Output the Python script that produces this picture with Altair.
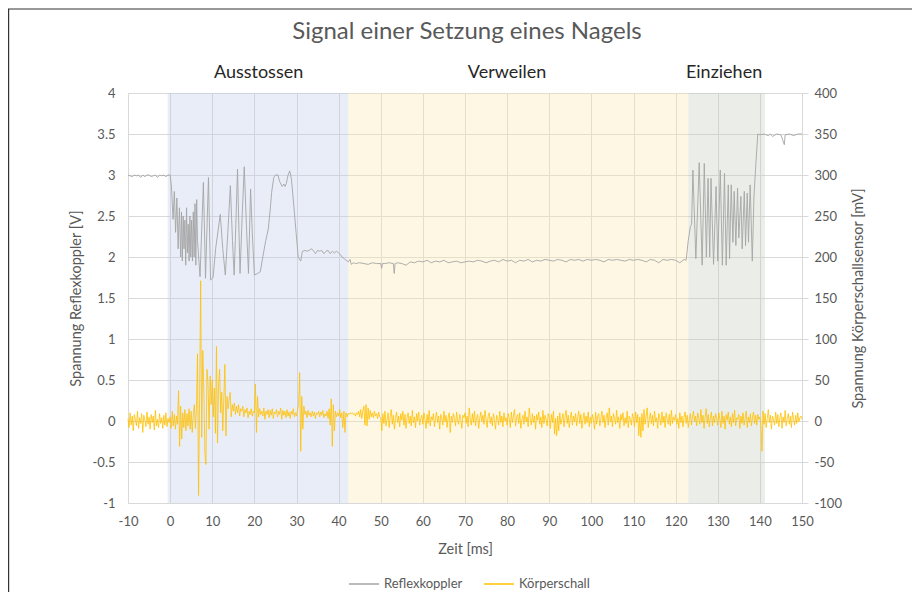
import altair as alt
import pandas as pd

FONT = "Lato"

chart_title = "Signal einer Setzung eines Nagels"
x_ticks = [-10, 0, 10, 20, 30, 40, 50, 60, 70, 80, 90, 100, 110, 120, 130, 140, 150]
left_ticks = [-1, -0.5, 0, 0.5, 1, 1.5, 2, 2.5, 3, 3.5, 4]
right_ticks = [-100, -50, 0, 50, 100, 150, 200, 250, 300, 350, 400]

series_names = ["Reflexkoppler", "Körperschall"]
series_colors = ["#a5a5a5", "#ffc000"]

phase_names = ["Ausstossen", "Verweilen", "Einziehen"]
phase_start = [-0.6, 42.3, 123.0]
phase_end = [42.3, 123.0, 141.2]
phase_label_x = [21, 80, 131.5]
phase_colors = ["#c0cce8", "#fce8b2", "#c6cebd"]

# Reflexkoppler [V]
refl_t = [
    -10, -9.5, -9, -8.5, -8, -7.5, -7, -6.5, -6, -5.5, -5, -4.5, -4, -3.5, -3, -2.5, -2, -1.5, -1, -0.5, 0,
    0.3, 0.7, 1.0, 1.3, 1.6, 1.9, 2.2, 2.5, 2.7, 2.9, 3.1, 3.3, 3.5, 3.7, 3.9, 4.1, 4.3, 4.5, 4.7, 4.9,
    5.1, 5.3, 5.5, 5.7, 5.9, 6.1, 6.3, 6.5,
    7.1, 7.9, 8.4, 9.1, 9.6, 10.2, 10.8, 11.9, 12.5, 13.1, 13.7, 14.3, 14.8, 15.2, 15.6, 16.0, 16.3, 16.6,
    17.1, 17.6, 18.1, 18.6, 19.1, 19.5, 20.0, 20.8, 21.4, 22.0, 22.7, 23.3, 23.8, 24.1, 24.6, 25.0, 25.6,
    26.0, 26.3, 26.6, 27.0, 27.3, 27.6, 28.0, 28.4, 28.8, 29.4, 29.9, 30.4, 31.0, 31.4,
    32, 32.5, 33, 33.5, 34, 34.5, 35, 35.5, 36, 36.5, 37, 37.5, 38, 38.5, 39, 39.5, 40, 40.4, 40.8, 41.3,
    41.8, 42.3, 42.7, 43.0,
    43.5, 44, 45, 46, 47, 48, 49, 50, 50.2, 50.4, 51, 52, 53, 53.2, 53.4, 54, 55, 56, 57, 58, 59, 60,
    61, 62, 63, 64, 65, 66, 67, 68, 69, 70, 71, 72, 73, 74, 75, 76, 77, 78, 79, 80, 81, 82, 83, 84, 85,
    86, 87, 88, 89, 90, 91, 92, 93, 94, 95, 96, 97, 98, 99, 100, 101, 102, 103, 104, 105, 106, 107, 108,
    109, 110, 111, 112, 113, 114, 115, 116, 117, 118, 119, 120, 121, 122, 122.5,
    123.0, 123.5, 123.8, 124.1, 124.8, 125.6, 126.3, 126.8, 127.3, 127.7, 128.1, 128.4, 129.0, 129.6,
    130.0, 130.6, 131.1, 131.6, 132.0, 132.5, 132.8, 133.2, 133.6, 133.9, 134.3, 134.7, 135.0, 135.5,
    135.8, 136.3, 136.6, 137.0, 137.3, 137.7, 138.2, 138.6, 139.0, 139.5,
    140, 141, 142, 142.5, 143, 144, 145, 145.8, 146, 147, 148, 149, 150,
]
refl_v = [
    3.0, 2.99, 2.98, 3.0, 2.99, 3.0, 2.97, 3.0, 2.98, 3.0, 3.0, 2.98, 2.99, 3.0, 2.97, 3.0, 2.99, 3.0, 2.98, 3.0, 3.0,
    2.87, 2.46, 2.8, 2.3, 2.72, 2.1, 2.6, 2.0, 2.55, 1.95, 2.5, 2.1, 2.45, 1.9, 2.6, 2.05, 2.4, 1.95, 2.5, 2.0,
    2.45, 1.95, 2.55, 2.0, 2.65, 1.9, 2.7, 2.2,
    1.76, 2.91, 1.74, 2.97, 1.72, 1.75, 2.1, 2.52, 2.1, 1.78, 2.3, 2.87, 2.2, 1.78, 2.4, 3.07, 2.4, 1.8,
    2.5, 3.1, 2.4, 1.8, 2.83, 2.3, 1.78, 1.8, 1.82, 2.0, 2.2, 2.34, 2.6, 2.79, 2.97, 3.0, 3.0,
    2.92, 2.89, 2.86, 2.89, 2.86, 2.9, 3.0, 3.05, 2.95, 2.6, 2.3, 2.0, 1.95, 2.07,
    2.08, 2.07, 2.08, 2.1, 2.08, 2.04, 2.08, 2.07, 2.08, 2.04, 2.07, 2.08, 2.04, 2.07, 2.05, 2.07, 2.05, 2.03, 2.0, 1.98,
    1.96, 1.94, 1.97, 1.91,
    1.93, 1.92, 1.93, 1.92, 1.91, 1.93, 1.92, 1.92, 1.86, 1.92, 1.92, 1.93, 1.92, 1.8, 1.92, 1.93, 1.92, 1.9, 1.94, 1.93, 1.95, 1.94,
    1.96, 1.93, 1.95, 1.94, 1.96, 1.93, 1.94, 1.95, 1.93, 1.94, 1.95, 1.94, 1.96, 1.95, 1.93, 1.95, 1.96, 1.94, 1.97, 1.95, 1.96, 1.93, 1.96, 1.95, 1.97,
    1.94, 1.96, 1.95, 1.97, 1.96, 1.95, 1.97, 1.96, 1.94, 1.97, 1.96, 1.97, 1.95, 1.97, 1.96, 1.97, 1.96, 1.94, 1.97, 1.96, 1.97, 1.96, 1.95,
    1.97, 1.96, 1.97, 1.96, 1.94, 1.97, 1.96, 1.93, 1.97, 1.96, 1.97, 1.96, 1.93, 1.97, 1.96,
    2.2, 2.37, 2.4, 3.06, 1.98, 3.15, 1.9, 3.14, 2.0, 2.96, 2.0, 2.96, 1.91, 2.86,
    1.95, 3.06, 1.9, 3.02, 1.9, 2.88, 1.98, 2.88, 2.18, 2.8, 2.14, 2.84, 2.23, 2.74,
    2.1, 2.8, 2.14, 2.78, 2.18, 2.88, 1.95, 2.74, 3.1, 3.5,
    3.49, 3.5, 3.48, 3.5, 3.47, 3.5, 3.49, 3.37, 3.49, 3.5, 3.48, 3.5, 3.5,
]

# Koerperschall [mV], sampled every 0.25 ms from -10 ms
ks_start = -10.0
ks_step = 0.25
ks_v = [
    3, -8, 10, -5, 6, -12, 8, 2, -6, 12, -9, 4, -3, 9, -14, 7, 1, -7, 11, -4, 5, -10, 8, -2, 6, -11, 13, -6, 2, -8, 9, -3, 4, -9, 7, -5, 10, -7, 3, -2,
    5, -9, 12, -6, 8, -10, 6, -4, 37, -31, 18, -22, 10, -8, 14, -12, 9, -6, 15, -10, 12, -14, 8, 20, -9, 15, 82, -91, 30, 171, -20, 86, 40, -39, -53, 63, 45, -10, 55, 20,
    50, 5, 40, -15, 91, -27, 45, 63, 10, 35, -12, 28, 69, -18, 30, 15, 25, 35, 5, 20, 12, 22, 8, 18, 10, 20, 6, 15, 12, 18, 5, 14, 10, 16, 4, 12, 8, 15, 6, 12,
    10, 45, -14, 30, 5, 15, 8, 12, 6, 16, 2, 12, 8, 14, 4, 13, 7, 15, 3, 11, 9, 14, 5, 12, 8, 16, 2, 13, 7, 12, 4, 14, 6, 11, 3, 12, 8, 15, 5, 10,
    6, 14, 20, 59, -37, 30, -10, 18, 8, 12, 4, 13, 7, 10, 5, 12, 6, 11, 3, 10, 8, 12, 5, 11, 7, 13, 4, 9, 6, 12, 3, 15, -5, 27, -31, 20, -12, 12, 5, 10,
    6, 14, 4, 10, -8, 12, -14, 10, 5, 9, 8, 10, 9, 10, 8, 9, 6, 10, 8, 12, 5, 14, 3, 12, 18, -5, 20, -6, 16, 2, 13, 5, 10, 4, 12, 6, 9, 3, 11, 5,
    4, -12, 9, -3, 12, -6, 2, 10, -8, 5, 14, -4, 7, -10, 3, 11, -2, 6, -7, 9, 1, 12, -5, 8, -9, 4, 10, -3, 6, -6, 13, -2, 5, -8, 9, 0, 11, -5, 3, 7,
    -4, 10, 2, -9, 8, -3, 13, -6, 5, 1, 9, -7, 4, 11, -2, 6, -10, 8, 3, -5, 12, -1, 7, -8, 4, 10, -14, 6, -2, 9, 3, -6, 11, 0, -4, 8, 2, -9, 7, 4,
    10, -3, 6, -7, 16, 2, -5, 9, -2, 12, -6, 4, 8, -9, 3, 11, -1, 7, -4, 13, 2, -8, 6, 10, -3, 5, -6, 9, 1, -10, 7, 3, -5, 12, -2, 6, -7, 10, 0, 4,
    -5, 9, 3, -8, 11, -2, 6, 14, -6, 4, 8, -3, 10, -9, 2, 7, -4, 12, -1, 5, -7, 16, 3, -5, 9, -2, 6, -10, 8, 1, 11, -4, 5, -8, 13, -3, 7, 2, -6, 9,
    4, -9, 8, -2, 12, -16, 3, -18, 6, -12, 10, -4, 2, 9, -7, 5, 13, -3, 7, -8, 3, 11, -5, 6, -1, 9, -6, 4, 12, -3, 8, -9, 2, 10, -4, 6, -2, 11, -7, 5,
    -3, 8, 2, -10, 11, -4, 6, 9, -6, 3, 12, -2, 7, -8, 4, 10, -5, 16, -1, 6, -7, 9, 3, -4, 13, -2, 5, -9, 8, 1, 10, -6, 4, -3, 12, -8, 6, 2, -5, 9,
    3, -7, 11, -2, 8, -18, 5, -20, 9, -12, 14, -4, 6, 16, -8, 2, 10, -3, 7, -6, 12, -1, 4, -9, 9, 3, -5, 11, -2, 6, -8, 10, 2, -4, 8, -6, 13, -3, 5, 1,
    8, -4, 3, -9, 10, -2, 6, -7, 4, 11, -3, 7, -8, 2, 9, -5, 5, 12, -1, 6, -6, 10, 3, -4, 14, -2, 7, -9, 5, 15, -3, 8, -7, 4, 11, -6, 6, -2, 9, 3,
    -5, 10, 2, -8, 12, -3, 6, -10, 8, 1, 11, -4, 5, -7, 9, -2, 13, -6, 4, 2, 8, -9, 6, -3, 10, -5, 3, 12, -8, 5, -2, 9, -6, 4, 11, -3, 7, -5, 8, 2,
    5, -6, -37, 12, -4, 9, -8, 3, 14, -2, 7, -10, 6, 2, -5, 11, -3, 8, -7, 4, 10, -9, 5, -2, 13, -6, 3, 9, -4, 6, -8, 11, 2, -5, 7, -3, 10, -1, 4, 6,
    2,
]

refl_df = pd.DataFrame({"t": refl_t, "v": refl_v, "series": series_names[0]})
ks_df = pd.DataFrame({
    "t": [ks_start + ks_step * i for i in range(len(ks_v))],
    "mv": ks_v,
    "series": series_names[1],
})
phase_df = pd.DataFrame({"phase": phase_names, "start": phase_start, "end": phase_end, "lx": phase_label_x})
title_df = pd.DataFrame({"title": [chart_title]})

LABEL_COLOR = "#595959"
GRID = "#d9d9d9"

x_axis = alt.Axis(
    values=x_ticks, title="Zeit [ms]", grid=True, gridColor=GRID, domainColor=GRID,
    ticks=False, labelPadding=12, labelFontSize=13, labelColor=LABEL_COLOR, labelFlush=False,
    labelExpr="toString(datum.value)", titleFontSize=14.5, titleColor=LABEL_COLOR,
    titleFontWeight="normal", titlePadding=14,
)
x_scale = alt.Scale(domain=[-10, 150], nice=False, zero=False)

left_axis = alt.Axis(
    values=left_ticks, title="Spannung  Reflexkoppler [V]", grid=True, gridColor=GRID,
    domainColor=GRID, ticks=False, labelPadding=13, labelFontSize=13, labelColor=LABEL_COLOR,
    labelFlush=False, labelExpr="toString(datum.value)", titleFontSize=14.5, titleColor=LABEL_COLOR,
    titleFontWeight="normal", titlePadding=9,
)
left_scale = alt.Scale(domain=[-1, 4], nice=False, zero=False)

right_axis = alt.Axis(
    orient="right", values=right_ticks, title="Spannung  Körperschallsensor [mV]", grid=False,
    domainColor=GRID, ticks=True, tickColor=GRID, tickSize=6, labelPadding=6, labelFontSize=13,
    labelFlush=False, labelColor=LABEL_COLOR, labelExpr="toString(datum.value)", titleFontSize=14.5,
    titleColor=LABEL_COLOR, titleFontWeight="normal", titleAngle=270, titlePadding=24,
)
right_scale = alt.Scale(domain=[-100, 400], nice=False, zero=False)

stroke_scale = alt.Scale(domain=series_names, range=series_colors)
legend = alt.Legend(
    title=None, orient="none", direction="horizontal", legendX=220, legendY=475,
    symbolType="stroke", symbolSize=900, symbolStrokeWidth=1.5, labelFontSize=13,
    labelColor=LABEL_COLOR, columnPadding=18, labelOffset=4,
)

rects = alt.Chart(phase_df).mark_rect(opacity=0.35).encode(
    x=alt.X("start:Q", scale=x_scale, axis=x_axis),
    x2="end:Q",
    y=alt.YDatum(4, scale=left_scale, axis=left_axis),
    y2=alt.Y2Datum(-1),
    fill=alt.Fill("phase:N", scale=alt.Scale(domain=phase_names, range=phase_colors), legend=None),
)

phase_labels = alt.Chart(phase_df).mark_text(fontSize=18, color="#262626", baseline="middle").encode(
    x=alt.X("lx:Q", scale=x_scale, axis=x_axis),
    y=alt.value(-20),
    text="phase:N",
)

refl_line = alt.Chart(refl_df).mark_line(strokeWidth=0.9).encode(
    x=alt.X("t:Q", scale=x_scale, axis=x_axis),
    y=alt.Y("v:Q", scale=left_scale, axis=left_axis),
    stroke=alt.Stroke("series:N", scale=stroke_scale, legend=legend),
)

title_mark = alt.Chart(title_df).mark_text(fontSize=24, color=LABEL_COLOR, baseline="middle").encode(
    x=alt.value(339), y=alt.value(-61), text="title:N",
)

border = alt.Chart(title_df).mark_rule(color="#333333", strokeWidth=1.2).encode(
    x=alt.value(-120), x2=alt.value(800), y=alt.value(-84),
)
border_left = alt.Chart(title_df).mark_rule(color="#333333", strokeWidth=1.2).encode(
    x=alt.value(-119.4), y=alt.value(-84), y2=alt.value(520),
)

left = alt.layer(rects, refl_line, phase_labels, title_mark, border, border_left)

ks_line = alt.Chart(ks_df).mark_line(strokeWidth=0.8).encode(
    x=alt.X("t:Q", scale=x_scale, axis=x_axis),
    y=alt.Y("mv:Q", scale=right_scale, axis=right_axis),
    stroke=alt.Stroke("series:N", scale=stroke_scale, legend=legend),
)

chart = alt.layer(left, ks_line).resolve_scale(y="independent").properties(
    width=674, height=410,
    autosize=alt.AutoSizeParams(type="none"),
    padding={"left": 120, "top": 85, "right": 110, "bottom": 100},
).configure(font=FONT).configure_view(stroke=None)

chart.save("out.html", embed_options={"renderer": "svg", "actions": False})
